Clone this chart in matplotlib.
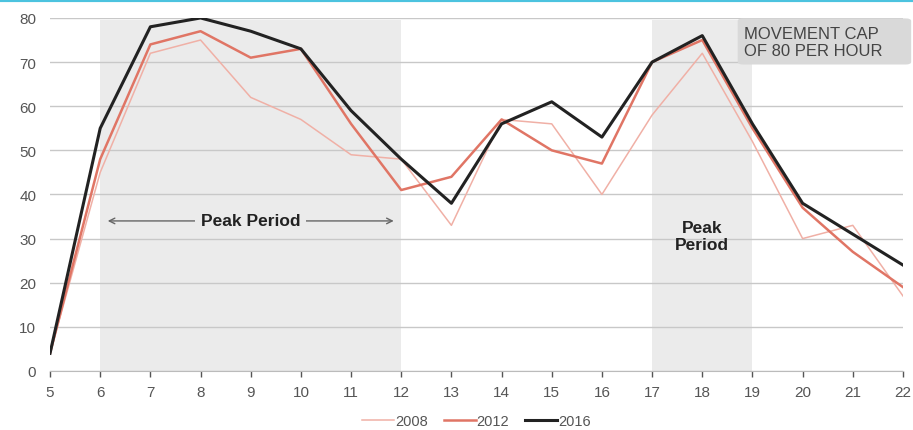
import matplotlib.pyplot as plt
from matplotlib.patches import FancyBboxPatch

plt.rcParams['font.family'] = ['Liberation Sans', 'DejaVu Sans']

hours = [5, 6, 7, 8, 9, 10, 11, 12, 13, 14, 15, 16, 17, 18, 19, 20, 21, 22]
y2008 = [4, 45, 72, 75, 62, 57, 49, 48, 33, 57, 56, 40, 58, 72, 52, 30, 33, 17]
y2012 = [4, 48, 74, 77, 71, 73, 56, 41, 44, 57, 50, 47, 70, 75, 55, 37, 27, 19]
y2016 = [4, 55, 78, 80, 77, 73, 59, 48, 38, 56, 61, 53, 70, 76, 56, 38, 31, 24]
peaks = [(6, 12), (17, 19)]
yticks = [0, 10, 20, 30, 40, 50, 60, 70, 80]

fig = plt.figure(figsize=(9.13, 4.31), dpi=100)
ax = fig.add_axes([0.0548, 0.137, 0.9342, 0.819])

# cyan strip along the top edge
fig.add_artist(plt.Line2D([0, 1], [0.997, 0.997], color='#4cc3df', lw=3,
                          transform=fig.transFigure))

for a, b in peaks:
    ax.axvspan(a, b, ymin=0, ymax=0.995, color='#ebebeb', lw=0, zorder=0)

ax.grid(axis='y', color='#c8c8c8', lw=1, zorder=1)
ax.set_axisbelow(True)

ax.plot(hours, y2008, color='#f0b0a6', lw=1.1, label='2008', zorder=3)
ax.plot(hours, y2012, color='#e07565', lw=1.8, label='2012', zorder=4)
ax.plot(hours, y2016, color='#222222', lw=2.2, label='2016', zorder=5)

ax.set_xlim(5, 22)
ax.set_ylim(0, 80)
ax.set_xticks(hours)
ax.set_yticks(yticks)
ax.tick_params(axis='x', colors='#555555', labelsize=11, length=4, width=1,
               direction='out', pad=6)
ax.tick_params(axis='y', colors='#555555', labelsize=11, length=0, pad=10)
for s in ['top', 'right', 'left']:
    ax.spines[s].set_visible(False)
ax.spines['bottom'].set_color('#bbbbbb')

# peak period labels
ax.annotate('', xy=(6.15, 34), xytext=(11.85, 34),
            arrowprops=dict(arrowstyle='<->', color='#666666', lw=1,
                            shrinkA=0, shrinkB=0))
ax.text(9, 34, 'Peak Period', ha='center', va='center', fontsize=12.5,
        fontweight='bold', color='#222222',
        bbox=dict(fc='#ebebeb', ec='none', pad=4))
ax.text(18, 30.5, 'Peak\nPeriod', ha='center', va='center', fontsize=12.5,
        fontweight='bold', color='#222222', linespacing=1.15)

# cap note
box = FancyBboxPatch((0.808, 0.848), 0.19, 0.107, transform=fig.transFigure,
                     boxstyle='round,pad=0,rounding_size=0.006',
                     fc='#d9d9d9', ec='none')
fig.add_artist(box)
fig.text(0.815, 0.9, 'MOVEMENT CAP\nOF 80 PER HOUR', ha='left', va='center',
         fontsize=12, color='#444444', linespacing=1.1)

ax.legend(loc='upper center', bbox_to_anchor=(0.5, -0.093), ncol=3,
          frameon=False, fontsize=10.5, handlelength=2.2, handletextpad=0.05,
          columnspacing=1.1, labelcolor='#555555', borderpad=0.2)

fig.savefig('out.png', dpi=100)
